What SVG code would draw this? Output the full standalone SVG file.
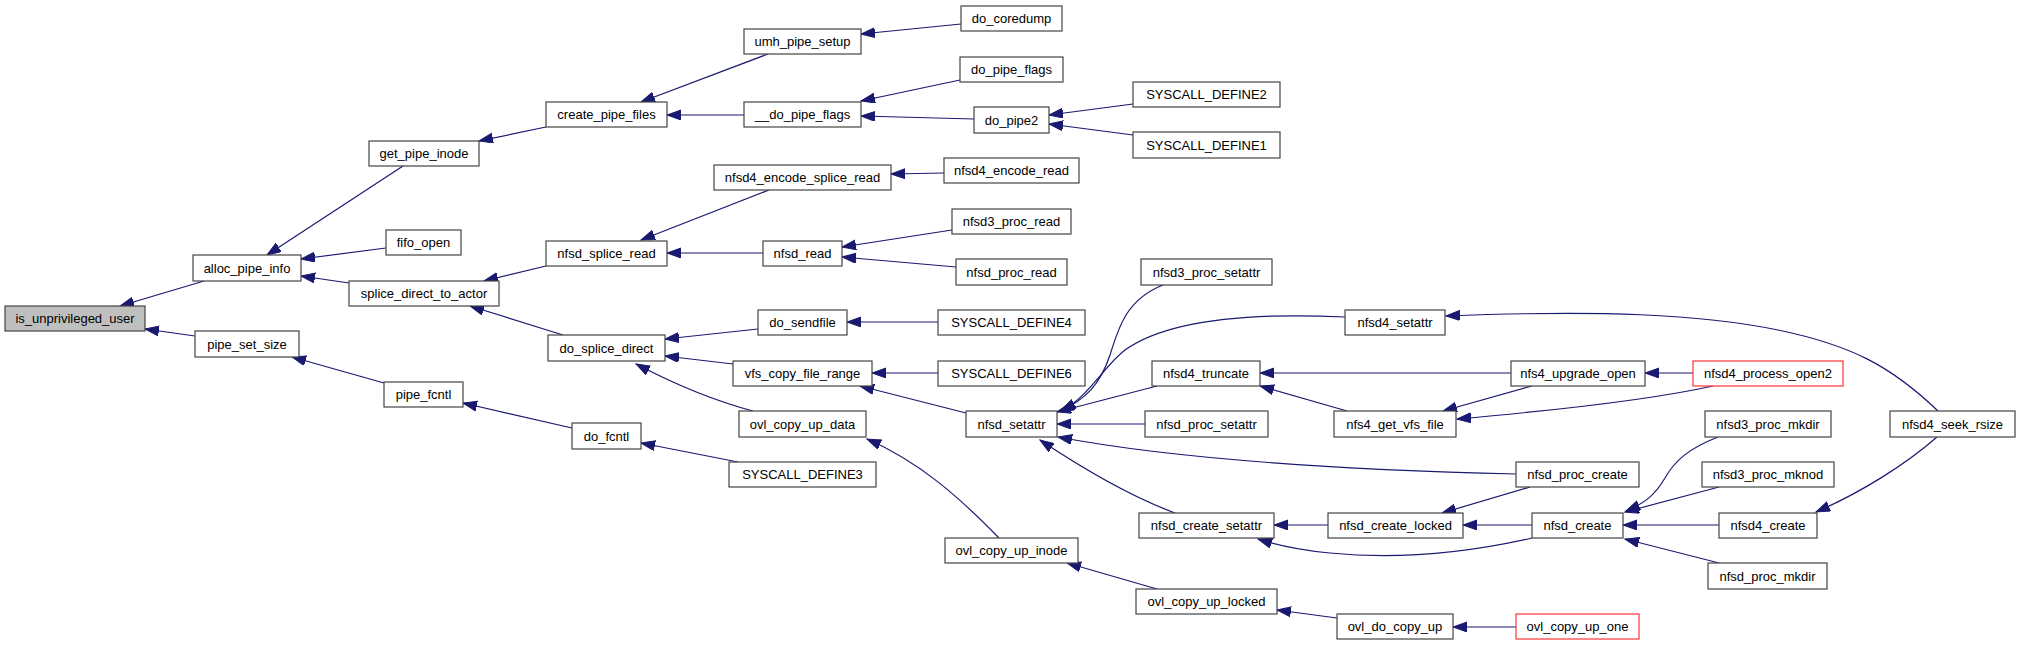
<svg xmlns="http://www.w3.org/2000/svg" width="2020" height="645" viewBox="0 0 2020 645">
<style>
.n rect{fill:#fff;stroke:#444;stroke-width:1.2}
.n.root rect{fill:#bfbfbf}
.n.red rect{stroke:#f33}
.n text{font-family:"Liberation Sans",Arial,sans-serif;font-size:13px;text-anchor:middle;fill:#000}
.e path{fill:none;stroke:#191970;stroke-width:1.2;marker-end:url(#a)}
</style>
<defs>
<marker id="a" markerUnits="userSpaceOnUse" markerWidth="16" markerHeight="12" refX="14" refY="5" orient="auto"><path d="M0,0 L14,5 L0,10 z" fill="#191970" stroke="#191970" stroke-width="1"/></marker>
</defs>
<rect width="2020" height="645" fill="#fff"/>
<g id="edges" class="e">
<path d="M204,281 L120,306"/>
<path d="M195,336 L145,329"/>
<path d="M403,166 L267,255"/>
<path d="M386,248 L301,259"/>
<path d="M349,283 L301,276"/>
<path d="M546,127 L479,141"/>
<path d="M768,54 L641,102"/>
<path d="M744,115 L667,115"/>
<path d="M961,24 L861,34"/>
<path d="M960,80 L861,101"/>
<path d="M974,119 L861,116"/>
<path d="M1133,104 L1049,115"/>
<path d="M1133,135 L1049,124"/>
<path d="M546,266 L484,281"/>
<path d="M563,335 L470,306"/>
<path d="M769,190 L641,240"/>
<path d="M763,253 L667,253"/>
<path d="M944,173 L891,174"/>
<path d="M952,230 L842,247"/>
<path d="M956,267 L842,257"/>
<path d="M758,329 L665,339"/>
<path d="M733,364 L665,356"/>
<path d="M753,411 C715,401 680,387 636,364"/>
<path d="M938,322 L847,322"/>
<path d="M938,373 L872,373"/>
<path d="M966,413 L860,386"/>
<path d="M999,538 C960,498 920,462 867,439"/>
<path d="M572,428 L463,403"/>
<path d="M384,383 L292,357"/>
<path d="M738,462 L641,443"/>
<path d="M1163,285 C1125,300 1118,330 1110,355 C1100,385 1085,400 1060,411"/>
<path d="M1345,317 C1260,313 1170,318 1125,350 C1105,365 1090,395 1062,411"/>
<path d="M1157,386 L1057,412"/>
<path d="M1145,424 L1057,424"/>
<path d="M1516,474 C1350,470 1180,460 1058,437"/>
<path d="M1175,513 C1140,500 1100,480 1040,440"/>
<path d="M1511,373 L1260,373"/>
<path d="M1347,411 L1260,386"/>
<path d="M1532,386 L1443,411"/>
<path d="M1713,386 C1650,400 1560,410 1457,419"/>
<path d="M1693,373 L1645,373"/>
<path d="M1938,411 C1890,365 1850,345 1778,330 C1700,314 1600,310 1446,316"/>
<path d="M1328,525 L1274,525"/>
<path d="M1532,538 C1470,552 1400,560 1330,553 C1300,550 1280,546 1258,539"/>
<path d="M1530,487 L1442,513"/>
<path d="M1532,525 L1463,525"/>
<path d="M1718,437 C1690,448 1675,460 1665,478 C1655,495 1645,503 1626,511"/>
<path d="M1719,487 L1625,512"/>
<path d="M1719,525 L1623,525"/>
<path d="M1719,563 L1625,539"/>
<path d="M1937,437 C1905,465 1860,493 1816,512"/>
<path d="M1157,589 L1067,563"/>
<path d="M1337,618 L1277,610"/>
<path d="M1516,627 L1453,627"/>
</g>
<g id="is_unprivileged_user" class="n root"><rect x="5" y="306" width="140" height="25"/><text x="75" y="323">is_unprivileged_user</text></g>
<g id="alloc_pipe_info" class="n"><rect x="193" y="255" width="108" height="26"/><text x="247" y="272.5">alloc_pipe_info</text></g>
<g id="pipe_set_size" class="n"><rect x="195" y="331" width="104" height="26"/><text x="247" y="348.5">pipe_set_size</text></g>
<g id="get_pipe_inode" class="n"><rect x="369" y="141" width="110" height="25"/><text x="424" y="158">get_pipe_inode</text></g>
<g id="fifo_open" class="n"><rect x="386" y="230" width="75" height="25"/><text x="423.5" y="247">fifo_open</text></g>
<g id="splice_direct_to_actor" class="n"><rect x="349" y="281" width="150" height="25"/><text x="424" y="298">splice_direct_to_actor</text></g>
<g id="pipe_fcntl" class="n"><rect x="384" y="382" width="79" height="25"/><text x="423.5" y="399">pipe_fcntl</text></g>
<g id="create_pipe_files" class="n"><rect x="546" y="102" width="121" height="25"/><text x="606.5" y="119">create_pipe_files</text></g>
<g id="nfsd_splice_read" class="n"><rect x="546" y="241" width="121" height="25"/><text x="606.5" y="258">nfsd_splice_read</text></g>
<g id="do_splice_direct" class="n"><rect x="548" y="335" width="117" height="26"/><text x="606.5" y="352.5">do_splice_direct</text></g>
<g id="do_fcntl" class="n"><rect x="572" y="423" width="69" height="26"/><text x="606.5" y="440.5">do_fcntl</text></g>
<g id="umh_pipe_setup" class="n"><rect x="744" y="29" width="117" height="25"/><text x="802.5" y="46">umh_pipe_setup</text></g>
<g id="__do_pipe_flags" class="n"><rect x="744" y="102" width="117" height="25"/><text x="802.5" y="119">__do_pipe_flags</text></g>
<g id="nfsd4_encode_splice_read" class="n"><rect x="714" y="165" width="177" height="25"/><text x="802.5" y="182">nfsd4_encode_splice_read</text></g>
<g id="nfsd_read" class="n"><rect x="763" y="241" width="79" height="25"/><text x="802.5" y="258">nfsd_read</text></g>
<g id="do_sendfile" class="n"><rect x="758" y="310" width="89" height="25"/><text x="802.5" y="327">do_sendfile</text></g>
<g id="vfs_copy_file_range" class="n"><rect x="733" y="361" width="139" height="25"/><text x="802.5" y="378">vfs_copy_file_range</text></g>
<g id="ovl_copy_up_data" class="n"><rect x="739" y="411" width="127" height="26"/><text x="802.5" y="428.5">ovl_copy_up_data</text></g>
<g id="SYSCALL_DEFINE3" class="n"><rect x="729" y="462" width="147" height="25"/><text x="802.5" y="479">SYSCALL_DEFINE3</text></g>
<g id="do_coredump" class="n"><rect x="961" y="6" width="101" height="25"/><text x="1011.5" y="23">do_coredump</text></g>
<g id="do_pipe_flags" class="n"><rect x="960" y="57" width="103" height="25"/><text x="1011.5" y="74">do_pipe_flags</text></g>
<g id="do_pipe2" class="n"><rect x="974" y="107" width="75" height="26"/><text x="1011.5" y="124.5">do_pipe2</text></g>
<g id="nfsd4_encode_read" class="n"><rect x="944" y="158" width="135" height="25"/><text x="1011.5" y="175">nfsd4_encode_read</text></g>
<g id="nfsd3_proc_read" class="n"><rect x="952" y="209" width="119" height="25"/><text x="1011.5" y="226">nfsd3_proc_read</text></g>
<g id="nfsd_proc_read" class="n"><rect x="956" y="259" width="111" height="26"/><text x="1011.5" y="276.5">nfsd_proc_read</text></g>
<g id="SYSCALL_DEFINE4" class="n"><rect x="938" y="310" width="147" height="25"/><text x="1011.5" y="327">SYSCALL_DEFINE4</text></g>
<g id="SYSCALL_DEFINE6" class="n"><rect x="938" y="361" width="147" height="25"/><text x="1011.5" y="378">SYSCALL_DEFINE6</text></g>
<g id="nfsd_setattr" class="n"><rect x="966" y="411" width="91" height="26"/><text x="1011.5" y="428.5">nfsd_setattr</text></g>
<g id="ovl_copy_up_inode" class="n"><rect x="945" y="538" width="133" height="25"/><text x="1011.5" y="555">ovl_copy_up_inode</text></g>
<g id="SYSCALL_DEFINE2" class="n"><rect x="1133" y="82" width="147" height="25"/><text x="1206.5" y="99">SYSCALL_DEFINE2</text></g>
<g id="SYSCALL_DEFINE1" class="n"><rect x="1133" y="132" width="147" height="26"/><text x="1206.5" y="149.5">SYSCALL_DEFINE1</text></g>
<g id="nfsd3_proc_setattr" class="n"><rect x="1141" y="259" width="131" height="26"/><text x="1206.5" y="276.5">nfsd3_proc_setattr</text></g>
<g id="nfsd4_truncate" class="n"><rect x="1152" y="361" width="108" height="25"/><text x="1206" y="378">nfsd4_truncate</text></g>
<g id="nfsd_proc_setattr" class="n"><rect x="1145" y="411" width="123" height="26"/><text x="1206.5" y="428.5">nfsd_proc_setattr</text></g>
<g id="nfsd_create_setattr" class="n"><rect x="1139" y="513" width="135" height="25"/><text x="1206.5" y="530">nfsd_create_setattr</text></g>
<g id="ovl_copy_up_locked" class="n"><rect x="1136" y="589" width="141" height="25"/><text x="1206.5" y="606">ovl_copy_up_locked</text></g>
<g id="nfsd4_setattr" class="n"><rect x="1345" y="310" width="100" height="25"/><text x="1395" y="327">nfsd4_setattr</text></g>
<g id="nfs4_get_vfs_file" class="n"><rect x="1334" y="411" width="122" height="26"/><text x="1395" y="428.5">nfs4_get_vfs_file</text></g>
<g id="nfsd_create_locked" class="n"><rect x="1328" y="513" width="135" height="25"/><text x="1395.5" y="530">nfsd_create_locked</text></g>
<g id="ovl_do_copy_up" class="n"><rect x="1337" y="614" width="116" height="25"/><text x="1395" y="631">ovl_do_copy_up</text></g>
<g id="nfs4_upgrade_open" class="n"><rect x="1511" y="361" width="134" height="25"/><text x="1578" y="378">nfs4_upgrade_open</text></g>
<g id="nfsd_proc_create" class="n"><rect x="1516" y="462" width="123" height="25"/><text x="1577.5" y="479">nfsd_proc_create</text></g>
<g id="nfsd_create" class="n"><rect x="1532" y="513" width="91" height="25"/><text x="1577.5" y="530">nfsd_create</text></g>
<g id="ovl_copy_up_one" class="n red"><rect x="1516" y="614" width="123" height="25"/><text x="1577.5" y="631">ovl_copy_up_one</text></g>
<g id="nfsd4_process_open2" class="n red"><rect x="1693" y="361" width="150" height="25"/><text x="1768" y="378">nfsd4_process_open2</text></g>
<g id="nfsd3_proc_mkdir" class="n"><rect x="1705" y="411" width="126" height="26"/><text x="1768" y="428.5">nfsd3_proc_mkdir</text></g>
<g id="nfsd3_proc_mknod" class="n"><rect x="1702" y="462" width="132" height="25"/><text x="1768" y="479">nfsd3_proc_mknod</text></g>
<g id="nfsd4_create" class="n"><rect x="1719" y="513" width="98" height="25"/><text x="1768" y="530">nfsd4_create</text></g>
<g id="nfsd_proc_mkdir" class="n"><rect x="1708" y="563" width="119" height="26"/><text x="1767.5" y="580.5">nfsd_proc_mkdir</text></g>
<g id="nfsd4_seek_rsize" class="n"><rect x="1890" y="411" width="125" height="26"/><text x="1952.5" y="428.5">nfsd4_seek_rsize</text></g>
</svg>
